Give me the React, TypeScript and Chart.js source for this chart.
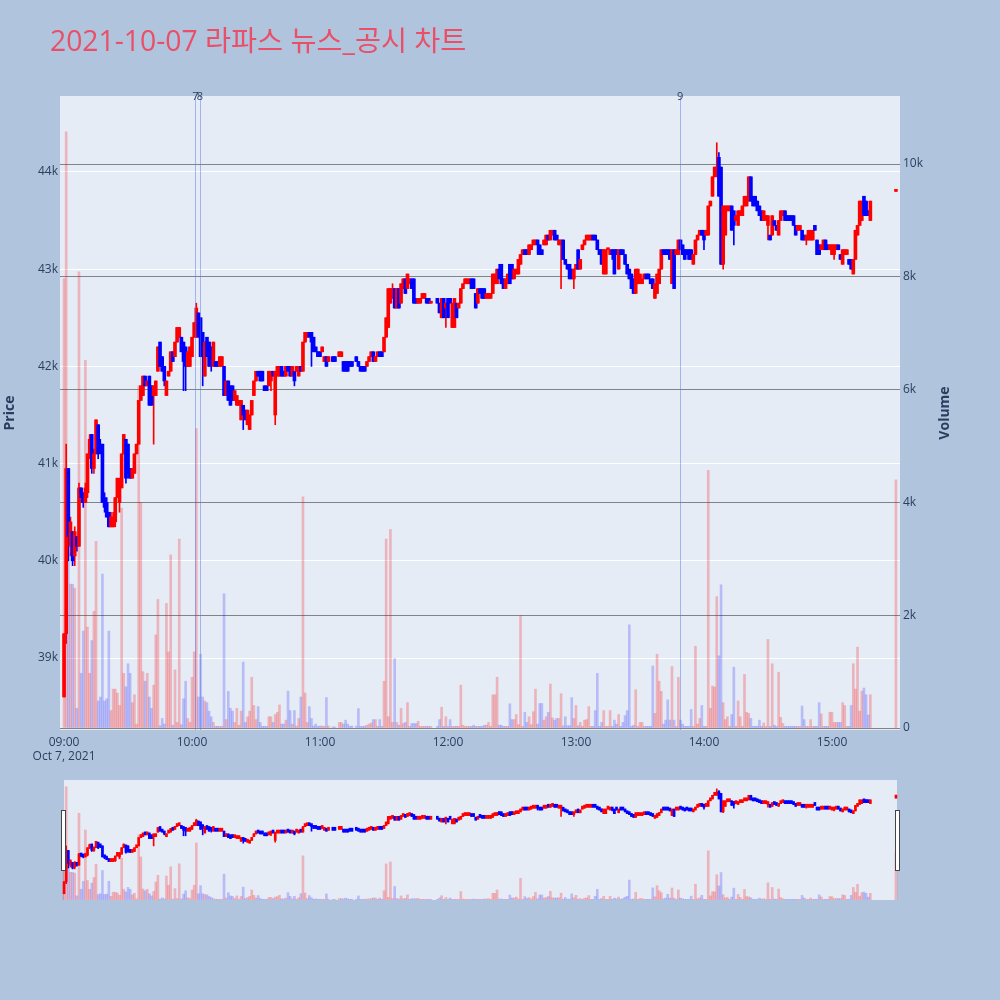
import React, { useEffect, useRef } from "react";
import { Chart, registerables } from "chart.js";

Chart.register(...registerables);

// ---------- DATA (minute index since 09:00) ----------
const titleText = "2021-10-07 라파스 뉴스_공시 차트";
const dateLabel = "Oct 7, 2021";
const tickMinutes = [0, 60, 120, 180, 240, 300, 360];
const tickLabels = ["09:00", "10:00", "11:00", "12:00", "13:00", "14:00", "15:00"];
const priceTicks = [39000, 40000, 41000, 42000, 43000, 44000];
const volumeTicks = [0, 2000, 4000, 6000, 8000, 10000];
const newsMinutes = [61.6, 63.7, 288.8];
const newsLabels = ["7", "8", "9"];

const N = null;
const opens = [
  38600,39250,40950,40150,40300,40050,40250,40150,40750,40700,
  40600,40700,41100,41300,40950,41100,41400,41200,41200,40650,
  40600,40500,40350,40350,40400,40650,40600,40750,41100,41250,
  41200,40950,40850,40900,41100,41200,41650,41700,41900,41800,
  41900,41800,41700,41700,41950,42250,42100,42000,41700,41900,
  41950,42150,42100,42250,42300,42300,42250,42200,42000,42000,
  42100,42300,42300,42550,42500,42350,41900,42300,42250,42200,
  42000,42050,42050,42000,42000,42000,41700,41850,41800,41800,
  41650,41600,41600,41450,41600,41550,41400,41350,41500,41700,
  41850,41950,41950,41950,41800,41800,41800,41850,41950,41500,
  41900,41900,42000,41950,41900,42000,42000,41900,41950,41950,
  41900,42000,41950,42250,42300,42350,42350,42300,42200,42150,
  42150,42150,42050,42100,42050,N,42100,42100,N,42100,
  42100,42050,42050,42050,42050,42050,N,42100,42050,42000,
  42000,42000,42000,42050,42100,42150,42050,42100,42150,42150,
  42150,42300,42400,42650,42700,42800,42600,42800,42650,42800,
  42900,42800,42850,42900,42900,42700,42650,42650,42700,42700,
  42700,42700,42650,N,N,42700,42650,42500,42700,42600,
  42700,42700,42400,42400,42650,42600,42650,42800,42850,42850,
  42850,42900,42900,42750,42650,42800,42800,42800,42700,42700,
  42700,42750,42850,42850,43000,43050,42900,42800,42850,43050,
  43050,42900,42950,42950,43050,43150,43200,43200,43150,43200,
  43250,43250,43300,43250,43200,43250,43250,43350,43300,43350,
  43400,43350,43250,43250,43300,43100,43050,43050,43000,42900,
  43000,43200,43000,43200,43250,43300,43300,43300,43350,43350,
  43300,43200,43200,42950,42950,43200,43150,43200,43200,43200,
  43000,43200,43200,43150,43050,43000,42950,42900,42750,42850,
  42850,42850,42900,42950,42950,42900,42900,42700,42750,42850,
  43000,43200,43200,43200,43200,42850,43200,43150,43150,43300,
  43250,43200,43200,43200,43200,43050,43150,43300,43350,43400,
  43400,43350,43350,43650,43750,43950,43950,44150,44050,43050,
  43350,43600,43600,43650,43600,43500,43450,43550,43550,43650,
  43650,43700,43950,43750,43750,43700,43650,43600,43500,43500,
  43450,43350,43350,43500,43450,43350,43500,43550,43600,43550,
  43550,43550,43550,43450,43400,43400,43400,43350,43300,43300,
  43300,43300,43450,43300,43250,43200,43200,43300,43250,43200,
  43150,43150,43200,43250,43150,43050,43150,43150,43100,43100,
  42950,43100,43350,43450,43500,43750,43700,43600,43500,N,
  N,N,N,N,N,N,N,N,N,N,
  43800,
];
const closes = [
  39250,40950,40250,40400,40000,40300,40150,40750,40650,40600,
  40750,41100,41250,40950,41100,41450,41100,41150,40600,40550,
  40450,40350,40450,40450,40650,40850,40800,41100,41300,40850,
  40900,40850,40950,41100,41200,41650,41800,41900,41800,41850,
  41600,41600,41800,41850,42200,42000,41950,41850,41850,41950,
  42150,42050,42250,42400,42400,42150,42050,42000,42150,42200,
  42300,42450,42600,42300,42100,42150,42250,42100,42000,42050,
  42250,42000,42000,42100,42100,41700,41850,41650,41600,41650,
  41750,41700,41650,41650,41500,41450,41550,41500,41650,41850,
  41950,41900,41850,41850,41750,41750,41950,41950,41900,41950,
  42000,42000,41900,41900,42000,41950,41900,42000,41850,42000,
  42000,41950,42250,42350,42350,42300,42250,42150,42150,42100,
  42100,42200,42100,42000,42100,N,42050,42050,N,42150,
  42150,41950,41950,41950,42000,42000,N,42050,42000,41950,
  41950,41950,42050,42100,42150,42050,42100,42150,42100,42100,
  42300,42500,42800,42800,42800,42600,42800,42600,42850,42900,
  42750,42950,42900,42800,42650,42650,42700,42700,42750,42750,
  42650,42650,42650,N,N,42650,42550,42700,42500,42650,
  42500,42650,42650,42700,42500,42650,42800,42850,42900,42900,
  42900,42800,42800,42600,42800,42750,42700,42700,42750,42750,
  42750,42950,42950,43000,42900,42850,42800,42900,42950,42850,
  42900,43000,43000,43100,43150,43200,43150,43150,43250,43250,
  43300,43300,43250,43150,43150,43300,43350,43300,43400,43400,
  43300,43300,43300,43300,43100,43050,43000,42900,42900,43000,
  43050,43000,43100,43250,43300,43350,43350,43350,43300,43300,
  43200,43150,43050,43200,43200,43200,43200,43150,42950,43150,
  43200,43150,43150,43050,42950,42900,42800,42750,43000,43000,
  42950,42900,42950,42900,42900,42850,42800,42850,42950,43000,
  43200,43150,43150,43150,43100,43200,42800,43200,43300,43200,
  43150,43100,43150,43100,43100,43150,43300,43350,43400,43350,
  43300,43400,43650,43700,43950,44050,44050,43750,43050,43650,
  43650,43650,43650,43400,43450,43550,43600,43600,43650,43750,
  43750,43950,43700,43650,43650,43600,43550,43500,43600,43550,
  43550,43300,43550,43450,43400,43500,43600,43600,43500,43500,
  43500,43500,43450,43350,43450,43450,43300,43300,43350,43400,
  43400,43400,43400,43150,43150,43250,43300,43200,43200,43250,
  43250,43250,43250,43200,43100,43200,43200,43200,43050,43000,
  43100,43400,43450,43700,43700,43550,43550,43550,43700,N,
  N,N,N,N,N,N,N,N,N,N,
  43800,
];
const highs = [
  39250,41200,40950,40450,40300,40350,40250,40800,40750,40700,
  40800,41100,41300,41300,41150,41450,41400,41250,41200,40700,
  40650,40500,40500,40500,40650,40850,40850,41100,41300,41250,
  41200,40950,40950,41100,41200,41650,41800,41900,41900,41850,
  41900,41800,41800,41850,42200,42250,42100,42000,41850,41950,
  42150,42150,42250,42400,42400,42300,42250,42200,42150,42200,
  42300,42450,42650,42550,42500,42350,42250,42300,42250,42200,
  42250,42050,42050,42100,42100,42000,41850,41850,41800,41800,
  41750,41700,41650,41650,41600,41550,41550,41500,41650,41850,
  41950,41950,41950,41950,41800,41800,41950,41950,41950,41950,
  42000,42000,42000,41950,42000,42000,42000,42000,41950,42000,
  42000,42000,42250,42350,42350,42350,42350,42300,42200,42150,
  42150,42200,42100,42100,42100,N,42100,42100,N,42150,
  42150,42050,42050,42050,42050,42050,N,42100,42050,42000,
  42000,42000,42050,42100,42150,42150,42100,42150,42150,42150,
  42300,42500,42800,42800,42850,42800,42800,42800,42850,42900,
  42900,42950,42900,42900,42900,42700,42700,42700,42750,42750,
  42700,42700,42650,N,N,42700,42650,42700,42700,42650,
  42700,42700,42650,42700,42650,42650,42800,42850,42900,42900,
  42900,42900,42900,42750,42800,42800,42800,42800,42750,42750,
  42750,42950,42950,43000,43050,43050,42900,42900,42950,43050,
  43050,43000,43000,43100,43150,43200,43200,43200,43250,43250,
  43300,43300,43300,43250,43200,43300,43350,43350,43400,43400,
  43400,43350,43300,43300,43300,43100,43050,43050,43000,43000,
  43050,43200,43100,43250,43300,43350,43350,43350,43350,43350,
  43300,43200,43200,43200,43200,43200,43200,43200,43200,43200,
  43200,43200,43200,43150,43050,43000,42950,42900,43000,43000,
  42950,42900,42950,42950,42950,42900,42900,42850,42950,43000,
  43200,43200,43200,43200,43200,43200,43200,43200,43300,43300,
  43250,43200,43200,43200,43200,43150,43300,43350,43400,43400,
  43400,43400,43650,43700,43950,44050,44300,44200,44050,43650,
  43650,43650,43650,43650,43600,43550,43600,43600,43650,43750,
  43750,43950,43950,43750,43750,43700,43650,43600,43600,43550,
  43550,43350,43550,43500,43450,43500,43600,43600,43600,43550,
  43550,43550,43550,43450,43450,43450,43400,43350,43350,43400,
  43400,43400,43450,43300,43250,43250,43300,43300,43250,43250,
  43250,43250,43250,43250,43150,43200,43200,43200,43100,43100,
  43100,43400,43450,43700,43700,43750,43700,43600,43700,N,
  N,N,N,N,N,N,N,N,N,N,
  43800,
];
const lows = [
  38600,39150,40000,40050,39950,39950,40100,40150,40600,40550,
  40600,40650,41050,40900,40900,41100,41050,41100,40600,40500,
  40450,40350,40350,40350,40350,40650,40500,40750,41100,40800,
  40850,40850,40850,40900,41100,41200,41650,41700,41800,41800,
  41600,41600,41200,41700,41950,42000,41950,41800,41700,41900,
  41950,42050,42100,42250,42300,42150,41750,41750,42000,42000,
  42100,42300,42300,42300,42100,41800,41900,42100,42000,41950,
  42000,42000,42000,42000,42000,41700,41700,41650,41600,41650,
  41650,41600,41600,41450,41350,41450,41400,41350,41500,41700,
  41850,41900,41850,41850,41750,41750,41800,41750,41900,41400,
  41900,41900,41900,41900,41900,41950,41900,41900,41800,41950,
  41900,41950,41950,42250,42300,42300,42000,42150,42150,42100,
  42100,42150,42050,42000,42050,N,42050,42050,N,42100,
  42100,41950,41950,41950,42000,42000,N,42050,42000,41950,
  41950,41950,42000,42050,42100,42050,42050,42100,42100,42100,
  42150,42300,42400,42650,42700,42600,42600,42600,42650,42800,
  42750,42800,42850,42800,42650,42650,42650,42650,42700,42700,
  42650,42650,42650,N,N,42650,42550,42500,42500,42400,
  42500,42650,42400,42400,42500,42600,42650,42800,42850,42850,
  42850,42800,42800,42600,42650,42750,42700,42700,42700,42700,
  42700,42750,42850,42850,42900,42850,42800,42800,42850,42850,
  42900,42900,42950,42950,43050,43150,43150,43150,43150,43200,
  43250,43250,43150,43150,43150,43250,43250,43300,43300,43350,
  43300,43300,43250,42800,43100,43050,43000,42900,42900,42800,
  43000,43000,43000,43200,43250,43300,43300,43300,43300,43300,
  43200,43150,43050,42950,42950,43200,43150,43100,42950,43150,
  43000,43150,43150,43050,42950,42900,42800,42750,42750,42850,
  42850,42850,42900,42900,42900,42850,42800,42700,42750,42850,
  43000,43150,43150,43150,43100,42850,42800,43150,43150,43200,
  43150,43100,43150,43100,43100,43050,43150,43300,43350,43350,
  43200,43350,43350,43650,43750,43950,43950,43750,43050,43000,
  43350,43600,43600,43400,43250,43500,43450,43550,43550,43650,
  43650,43700,43700,43650,43650,43600,43550,43500,43500,43500,
  43300,43300,43350,43450,43400,43350,43500,43550,43500,43500,
  43500,43500,43450,43350,43400,43400,43300,43300,43250,43300,
  43300,43300,43400,43150,43150,43200,43200,43200,43200,43200,
  43150,43100,43200,43200,43100,43050,43150,43150,43050,43000,
  42950,43100,43350,43450,43500,43550,43550,43550,43500,N,
  N,N,N,N,N,N,N,N,N,N,
  43800,
];
const volumes = [
  7970,10570,3100,2550,2550,2480,350,8090,970,1720,
  6520,1790,970,1550,2070,3310,480,550,2730,480,
  520,1720,310,690,690,620,400,3900,970,730,
  1140,970,450,590,70,6070,4000,1000,830,970,
  550,350,760,1650,2280,40,170,70,2210,1350,
  3070,50,1030,100,3350,60,520,830,170,100,
  900,1350,5310,550,1310,550,480,450,300,200,
  100,30,30,30,30,2380,150,650,350,300,
  100,350,50,300,1170,100,200,300,900,400,
  150,380,100,30,30,30,200,200,100,240,
  280,410,70,70,140,655,310,70,310,35,
  170,550,4100,620,100,380,170,35,70,30,
  35,35,30,540,35,N,20,20,N,100,
  100,70,140,70,30,35,N,35,345,30,
  30,35,50,70,90,150,150,30,150,30,
  830,3350,200,3520,100,1230,100,50,350,80,
  100,450,30,80,80,80,120,30,30,30,
  30,30,30,N,N,30,150,370,30,200,
  30,150,30,30,30,30,760,50,30,30,
  30,30,50,30,30,30,30,50,50,100,
  30,590,590,900,50,50,30,30,30,430,
  150,150,240,60,1990,30,280,100,200,60,
  290,690,70,435,435,140,200,280,780,180,
  140,170,170,610,40,200,40,40,540,170,
  400,40,100,30,140,150,380,30,30,310,
  970,30,100,310,30,30,310,30,140,70,
  240,30,100,220,310,1830,30,50,680,30,
  100,100,30,30,30,30,1100,260,1310,830,
  650,70,140,500,140,1090,140,30,900,140,
  70,30,30,30,330,30,1450,70,170,400,
  30,30,4570,350,745,725,2330,1280,2540,450,
  150,200,30,240,1080,30,480,200,30,950,
  280,260,170,30,30,30,140,30,90,30,
  1570,30,1140,50,30,990,190,80,30,30,
  30,30,30,30,30,30,390,150,30,30,
  150,30,30,30,450,250,30,30,30,280,
  280,100,100,100,100,450,400,30,30,400,
  1140,690,1435,300,655,710,590,230,590,N,
  N,N,N,N,N,N,N,N,N,N,
  4400,
];

// ---------- axis ranges / styles ----------
const X_MIN = -1.9, X_MAX = 391.9;
const P_MIN = 38260, P_MAX = 44781;
const V_MIN = -35, V_MAX = 11206;
const UP = "#ff0000", DOWN = "#0000ff";
const UP_VOL = "rgba(255,0,0,0.24)", DOWN_VOL = "rgba(0,0,255,0.2)";
const PLOT_BG = "#e5ecf6";
const TEXT = "#2a3f5f";
const FONT = "'Open Sans', 'Noto Sans CJK KR', sans-serif";

type Pt = { x: number; o: number; h: number; l: number; c: number; v: number; up: boolean };

function points(): Pt[] {
  const out: Pt[] = [];
  for (let i = 0; i < opens.length; i++) {
    const o = opens[i], c = closes[i], h = highs[i], l = lows[i], v = volumes[i];
    if (o == null || c == null || h == null || l == null) continue;
    out.push({ x: i, o, c, h, l, v: v ?? 0, up: c >= o });
  }
  return out;
}

function datasets(pts: Pt[], mini: boolean) {
  const col = pts.map((p) => (p.up ? UP : DOWN));
  return [
    {
      label: "vol",
      data: pts.map((p) => ({ x: p.x, y: p.v })),
      yAxisID: "yVol",
      backgroundColor: pts.map((p) => (p.up ? UP_VOL : DOWN_VOL)),
      barThickness: 2,
      grouped: false,
      order: 3,
    },
    {
      label: "wick",
      data: pts.map((p) => ({ x: p.x, y: [p.l, p.h] })),
      yAxisID: "y",
      backgroundColor: col,
      barThickness: 1,
      minBarLength: 1,
      grouped: false,
      order: 2,
    },
    {
      label: "body",
      data: pts.map((p) => ({ x: p.x, y: [Math.min(p.o, p.c), Math.max(p.o, p.c)] })),
      yAxisID: "y",
      backgroundColor: col,
      barThickness: mini ? 2 : 3,
      minBarLength: mini ? 3 : 2,
      grouped: false,
      order: 1,
    },
  ];
}

const mainDecor = {
  id: "mainDecor",
  beforeDraw(chart: any) {
    const { ctx, chartArea: a } = chart;
    ctx.save();
    ctx.fillStyle = PLOT_BG;
    ctx.fillRect(a.left, a.top, a.right - a.left, a.bottom - a.top);
    ctx.restore();
  },
  afterDatasetsDraw(chart: any) {
    const { ctx, chartArea: a, scales } = chart;
    ctx.save();
    ctx.strokeStyle = "rgba(80,110,235,0.45)";
    ctx.lineWidth = 1;
    newsMinutes.forEach((m) => {
      const px = Math.round(scales.x.getPixelForValue(m)) + 0.5;
      ctx.beginPath();
      ctx.moveTo(px, a.top);
      ctx.lineTo(px, a.bottom);
      ctx.stroke();
    });
    ctx.fillStyle = TEXT;
    ctx.font = `11px ${FONT}`;
    ctx.textAlign = "center";
    ctx.textBaseline = "middle";
    newsMinutes.forEach((m, i) => {
      ctx.fillText(newsLabels[i], scales.x.getPixelForValue(m), a.top + 1);
    });
    ctx.restore();
  },
  afterDraw(chart: any) {
    const { ctx } = chart;
    ctx.save();
    ctx.fillStyle = "#ea4f68";
    ctx.font = `28.3px ${FONT}`;
    ctx.textAlign = "left";
    ctx.textBaseline = "alphabetic";
    ctx.fillText(titleText, 50, 51);
    ctx.fillStyle = TEXT;
    ctx.font = `bold 14px ${FONT}`;
    ctx.textAlign = "center";
    ctx.textBaseline = "middle";
    [["Price", 10], ["Volume", 945]].forEach(([t, x]) => {
      ctx.save();
      ctx.translate(x as number, 413);
      ctx.rotate(-Math.PI / 2);
      ctx.fillText(t as string, 0, 0);
      ctx.restore();
    });
    ctx.restore();
  },
};

const sliderDecor = {
  id: "sliderDecor",
  beforeDraw(chart: any) {
    const { ctx } = chart;
    ctx.save();
    ctx.fillStyle = PLOT_BG;
    ctx.fillRect(64, 0, 833, 120);
    ctx.restore();
  },
  afterDraw(chart: any) {
    const { ctx } = chart;
    ctx.save();
    ctx.fillStyle = "#ffffff";
    ctx.strokeStyle = "#444444";
    ctx.lineWidth = 1;
    [61.5, 895.5].forEach((x) => {
      ctx.fillRect(x, 30.5, 4, 60);
      ctx.strokeRect(x, 30.5, 4, 60);
    });
    ctx.restore();
  },
};

export default function App() {
  const mainRef = useRef<HTMLCanvasElement>(null);
  const sliderRef = useRef<HTMLCanvasElement>(null);

  useEffect(() => {
    const pts = points();
    const tickFont = { family: FONT, size: 12 };
    const main = new Chart(mainRef.current as HTMLCanvasElement, {
      type: "bar",
      data: { datasets: datasets(pts, false) as any },
      options: {
        animation: false,
        responsive: false,
        maintainAspectRatio: false,
        events: [],
        layout: { padding: { top: 96, left: 0, right: 45, bottom: 0 } },
        plugins: { legend: { display: false }, tooltip: { enabled: false }, title: { display: false } },
        scales: {
          x: {
            type: "linear",
            min: X_MIN,
            max: X_MAX,
            offset: false,
            grid: { display: false, drawTicks: false, offset: false },
            border: { display: false },
            afterBuildTicks: (s: any) => {
              s.ticks = tickMinutes.map((v) => ({ value: v }));
            },
            afterFit: (s: any) => {
              s.height = 45;
            },
            ticks: {
              autoSkip: false,
              maxRotation: 0,
              padding: 5,
              color: TEXT,
              font: tickFont,
              callback: (_v: any, i: number) => (i === 0 ? [tickLabels[0], dateLabel] : tickLabels[i]),
            },
          },
          y: {
            type: "linear",
            position: "left",
            min: P_MIN,
            max: P_MAX,
            grid: { color: "#ffffff", lineWidth: 1, drawTicks: false },
            border: { display: false },
            afterBuildTicks: (s: any) => {
              s.ticks = priceTicks.map((v) => ({ value: v }));
            },
            afterFit: (s: any) => {
              s.width = 60;
            },
            ticks: { padding: 2, color: TEXT, font: tickFont, callback: (v: any) => `${Number(v) / 1000}k` },
          },
          yVol: {
            type: "linear",
            position: "right",
            min: V_MIN,
            max: V_MAX,
            grid: { color: "rgba(105,105,105,0.8)", lineWidth: 1, drawTicks: false },
            border: { display: false },
            afterBuildTicks: (s: any) => {
              s.ticks = volumeTicks.map((v) => ({ value: v }));
            },
            afterFit: (s: any) => {
              s.width = 55;
            },
            ticks: {
              padding: 3,
              color: TEXT,
              font: tickFont,
              callback: (v: any) => (Number(v) === 0 ? "0" : `${Number(v) / 1000}k`),
            },
          },
        },
      } as any,
      plugins: [mainDecor],
    });

    const slider = new Chart(sliderRef.current as HTMLCanvasElement, {
      type: "bar",
      data: { datasets: datasets(pts, true) as any },
      options: {
        animation: false,
        responsive: false,
        maintainAspectRatio: false,
        events: [],
        layout: { padding: { top: 0, left: 60, right: 100, bottom: 0 } },
        plugins: { legend: { display: false }, tooltip: { enabled: false } },
        scales: {
          x: { type: "linear", min: X_MIN, max: X_MAX, offset: false, display: false },
          y: { type: "linear", min: P_MIN, max: P_MAX, display: false },
          yVol: { type: "linear", min: V_MIN, max: V_MAX, display: false },
        },
      } as any,
      plugins: [sliderDecor],
    });

    return () => {
      main.destroy();
      slider.destroy();
    };
  }, []);

  return (
    <div style={{ position: "fixed", left: 0, top: 0, width: 1000, height: 1000, background: "#b0c4de" }}>
      <canvas ref={mainRef} width={1000} height={775} style={{ position: "absolute", left: 0, top: 0, width: 1000, height: 775 }} />
      <canvas ref={sliderRef} width={1000} height={120} style={{ position: "absolute", left: 0, top: 780, width: 1000, height: 120 }} />
    </div>
  );
}
